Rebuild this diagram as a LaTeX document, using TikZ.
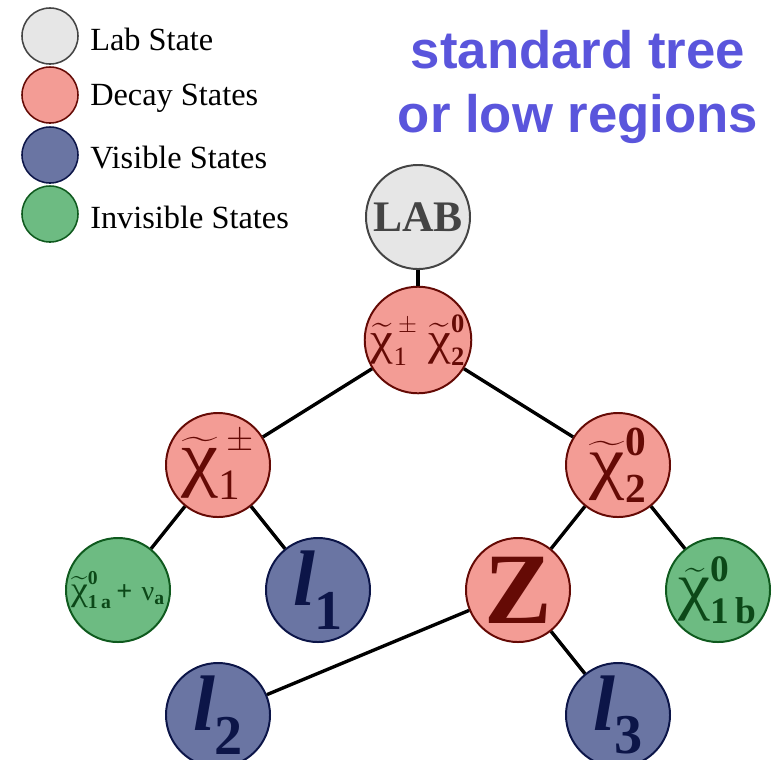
\documentclass[tikz,border=0pt]{standalone}
\usepackage{amsmath}
\usepackage{fontspec}
\setmainfont{Liberation Serif}
\newfontfamily\headfont{Liberation Sans}
\usetikzlibrary{positioning}

\definecolor{labfill}{HTML}{E6E6E6}
\definecolor{labline}{HTML}{444444}
\definecolor{decfill}{HTML}{F39C95}
\definecolor{decline}{HTML}{650A05}
\definecolor{visfill}{HTML}{6A75A3}
\definecolor{visline}{HTML}{0C1548}
\definecolor{invfill}{HTML}{6DBB82}
\definecolor{invline}{HTML}{0F5A1E}
\definecolor{headblue}{HTML}{5A55DC}

\newcommand{\chit}[2]{$\widetilde{\text{\scalebox{1.35}[1.2]{χ}}}_{\text{#1}}^{\text{#2}}$}
\newcommand{\lep}[1]{{\itshape l}\raisebox{-0.3em}{\fontsize{40}{40}\selectfont\upshape #1}}

\tikzstyle{labst}=[circle, draw=labline, fill=labfill, line width=1.4pt, minimum size=2.6cm, inner sep=0pt, text=labline]
\tikzstyle{decst}=[labst, draw=decline, fill=decfill, text=decline]
\tikzstyle{visst}=[labst, draw=visline, fill=visfill, text=visline]
\tikzstyle{invst}=[labst, draw=invline, fill=invfill, text=invline!80!black]
\tikzstyle{legdot}=[minimum size=1.4cm, line width=1.1pt]
\tikzstyle{legtext}=[anchor=west, inner sep=0pt, font=\fontsize{23}{25}\selectfont]
\tikzstyle{branch}=[line width=2.4pt]

\begin{document}
\begin{tikzpicture}[x=0.025cm, y=-0.025cm]
  \useasboundingbox (0,0) rectangle (774,759);

  % legend
  \node[labst, legdot] (leglab) at (50,36) {};
  \node[decst, legdot] (legdec) at (50,95) {};
  \node[visst, legdot] (legvis) at (50,155) {};
  \node[invst, legdot] (leginv) at (50,214) {};
  \node[legtext] (txtlab) at (90,39) {Lab State};
  \node[legtext] (txtdec) at (90,98) {Decay States};
  \node[legtext] (txtvis) at (90,158) {Visible States};
  \node[legtext] (txtinv) at (90,217) {Invisible States};

  \node[align=center, text=headblue, font=\headfont\bfseries\fontsize{37.5}{45.5}\selectfont] (head) at (578,87) {standard tree\\or low regions};

  % tree
  \node[labst, font=\fontsize{31}{31}\selectfont\bfseries] (lab) at (418,217) {LAB};
  \node[decst, font=\fontsize{27}{27}\selectfont] (pair) at (418,340) {\chit{1}{\,$\pm$}\;\chit{\bfseries 2}{\bfseries 0}};
  \node[decst, font=\fontsize{44}{44}\selectfont] (charg) at (218,465) {\chit{1}{\,$\pm$}};
  \node[decst, font=\fontsize{42}{42}\selectfont] (neut) at (618,465) {\chit{\bfseries 2}{\bfseries 0}};
  \node[invst, font=\fontsize{20}{20}\selectfont] (inva) at (118,590) {\chit{\bfseries 1\,a}{\bfseries 0}\,{\bfseries +}\,\,$\text{ν}_{\text{\bfseries a}}$};
  \node[visst, font=\fontsize{56}{56}\selectfont\bfseries] (lone) at (318,590) {\lep{1}};
  \node[decst, font=\fontsize{72}{72}\selectfont\bfseries] (zed) at (518,590) {Z};
  \node[invst, font=\fontsize{38}{38}\selectfont] (invb) at (718,590) {\chit{\bfseries 1\,b}{\bfseries 0}};
  \node[visst, font=\fontsize{56}{56}\selectfont\bfseries] (ltwo) at (218,715) {\lep{2}};
  \node[visst, font=\fontsize{56}{56}\selectfont\bfseries] (lthree) at (618,715) {\lep{3}};

  \draw[branch] (lab) -- (pair);
  \draw[branch] (pair) -- (charg);
  \draw[branch] (pair) -- (neut);
  \draw[branch] (charg) -- (inva);
  \draw[branch] (charg) -- (lone);
  \draw[branch] (neut) -- (zed);
  \draw[branch] (neut) -- (invb);
  \draw[branch] (zed) -- (ltwo);
  \draw[branch] (zed) -- (lthree);
\end{tikzpicture}
\end{document}
